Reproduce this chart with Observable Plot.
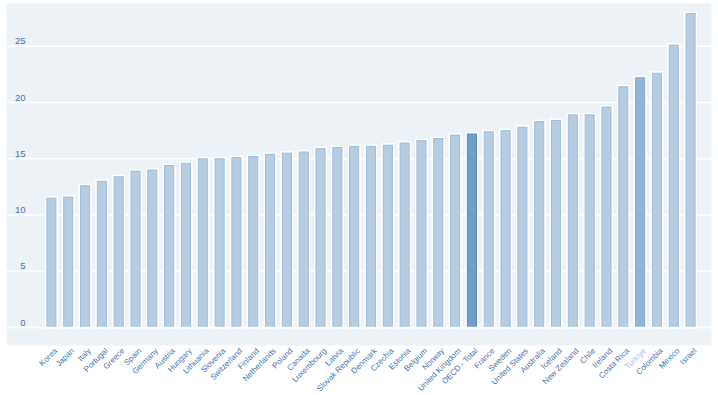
<!DOCTYPE html>
<html>
<head>
<meta charset="utf-8">
<script src="https://cdn.jsdelivr.net/npm/d3@7"></script>
<script src="https://cdn.jsdelivr.net/npm/@observablehq/plot@0.6"></script>
<style>
  html, body { margin: 0; padding: 0; background: #ffffff; }
  #chart svg { display: block; }
</style>
</head>
<body>
<div id="chart"></div>
<script>
const countries = ["Korea","Japan","Italy","Portugal","Greece","Spain","Germany","Austria","Hungary","Lithuania","Slovenia","Switzerland","Finland","Netherlands","Poland","Canada","Luxembourg","Latvia","Slovak Republic","Denmark","Czechia","Estonia","Belgium","Norway","United Kingdom","OECD - Total","France","Sweden","United States","Australia","Iceland","New Zealand","Chile","Ireland","Costa Rica","Türkiye","Colombia","Mexico","Israel"];
const values = [11.5,11.6,12.6,13.0,13.4,13.9,14.0,14.4,14.6,15.0,15.0,15.1,15.2,15.4,15.5,15.6,15.9,16.0,16.1,16.1,16.2,16.4,16.6,16.8,17.1,17.2,17.4,17.5,17.8,18.3,18.4,18.9,18.9,19.6,21.4,22.2,22.6,25.1,27.9];
const yTicks = [0,5,10,15,20,25];
const highlightTotal = "OECD - Total";
const highlightCountry = "Türkiye";

const data = countries.map((c, i) => ({country: c, value: values[i]}));
const fillOf = d => d.country === highlightTotal ? "#6f9fcb" : d.country === highlightCountry ? "#93b5d5" : "#b5cce1";
const strokeOf = d => d.country === highlightTotal ? "#5a89bd" : d.country === highlightCountry ? "#7fa6cc" : "#a0bdd9";
const labelOf = d => d.country === highlightCountry ? "#a9c0de" : "#4572b3";

const font = "'Liberation Sans', Arial, sans-serif";

const chart = Plot.plot({
  width: 718,
  height: 395,
  marginTop: 3,
  marginBottom: 68,
  marginLeft: 43,
  marginRight: 19,
  style: {fontFamily: font, background: "#ffffff"},
  x: {domain: countries, paddingInner: 0.4, paddingOuter: 0.2, axis: null},
  y: {domain: [0, 28.8], axis: null},
  color: {type: "identity"},
  marks: [
    Plot.frame({fill: "#edf2f7", stroke: null, insetLeft: -37, insetRight: -12, insetBottom: -18}),
    Plot.ruleY(yTicks, {stroke: "#ffffff", strokeWidth: 1.3, insetLeft: -37, insetRight: -12}),
    Plot.text(yTicks, {y: d => d, text: d => String(d), frameAnchor: "left", dx: -18, dy: -2, textAnchor: "end", lineAnchor: "bottom", fill: "#4572b3", fontSize: 9.5}),
    Plot.barY(data, {x: "country", y: "value", fill: "#ffffff", stroke: "#ffffff", strokeWidth: 3}),
    Plot.barY(data, {x: "country", y: "value", fill: fillOf, stroke: strokeOf, strokeWidth: 1, insetLeft: 0.5, insetRight: 0.5, insetTop: 0.5}),
    Plot.ruleY([0], {stroke: "#ffffff", strokeWidth: 1.5, insetLeft: -37, insetRight: -12}),
    Plot.text(data, {x: "country", text: "country", frameAnchor: "bottom", dx: 4, dy: 22, rotate: -45, textAnchor: "end", lineAnchor: "middle", fill: labelOf, fontSize: 8, letterSpacing: -0.15})
  ]
});
document.getElementById("chart").append(chart);
</script>
</body>
</html>
